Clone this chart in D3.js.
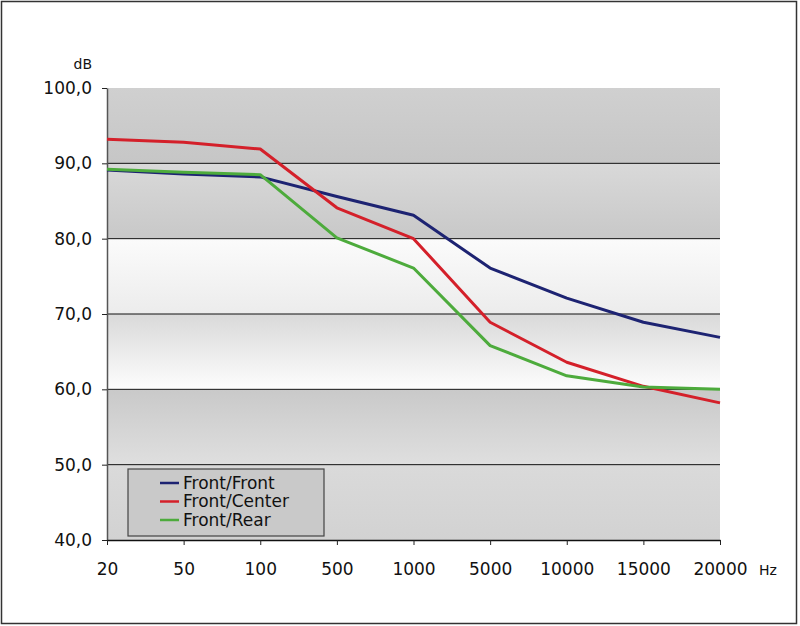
<!DOCTYPE html>
<html>
<head>
<meta charset="utf-8">
<script src="https://cdn.jsdelivr.net/npm/d3@7"></script>
<style>
  body { margin: 0; background: #fff; }
  svg { display: block; }
</style>
</head>
<body>
<div id="chart"></div>
<script>
var categories = ["20", "50", "100", "500", "1000", "5000", "10000", "15000", "20000"];
var frontFront = [89.1, 88.6, 88.2, 85.6, 83.1, 76.1, 72.1, 68.9, 66.9];
var frontCenter = [93.2, 92.8, 91.9, 84.1, 80.0, 68.9, 63.6, 60.4, 58.2];
var frontRear = [89.2, 88.8, 88.5, 80.1, 76.1, 65.8, 61.8, 60.3, 60.0];
var seriesNames = ["Front/Front", "Front/Center", "Front/Rear"];
var seriesColors = ["#1d2372", "#d4202a", "#4dab3c"];
var yTicks = [40, 50, 60, 70, 80, 90, 100];

var width = 800, height = 626;
var plotLeft = 107, plotRight = 720, plotTop = 88, plotBottom = 540;

var svg = d3.select("#chart").append("svg")
  .attr("width", width)
  .attr("height", height);

// outer frame
svg.append("rect")
  .attr("x", 1.5).attr("y", 1.5)
  .attr("width", 795).attr("height", 622)
  .attr("fill", "#fff")
  .attr("stroke", "#333")
  .attr("stroke-width", 1.5);

var x = d3.scalePoint().domain(categories).range([plotLeft, plotRight]).padding(0);
var y = d3.scaleLinear().domain([40, 100]).range([plotBottom, plotTop]);

// band gradients, one per band between gridlines
var bandShades = [
  ["#d2d2d2", "#dadada"], // 40-50
  ["#dfdfdf", "#c9c9c9"], // 50-60
  ["#fdfdfd", "#d9d9d9"], // 60-70
  ["#ececec", "#fbfbfb"], // 70-80
  ["#c8c8c8", "#d9d9d9"], // 80-90
  ["#c6c6c6", "#d0d0d0"]  // 90-100
];
var defs = svg.append("defs");
bandShades.forEach(function (s, i) {
  var g = defs.append("linearGradient")
    .attr("id", "band" + i)
    .attr("x1", 0).attr("y1", 0).attr("x2", 0).attr("y2", 1);
  g.append("stop").attr("offset", "0%").attr("stop-color", s[1]);
  g.append("stop").attr("offset", "100%").attr("stop-color", s[0]);
});

svg.selectAll(".band")
  .data(yTicks.slice(0, -1))
  .enter().append("rect")
  .attr("class", "band")
  .attr("x", plotLeft)
  .attr("y", function (d) { return y(d + 10); })
  .attr("width", plotRight - plotLeft)
  .attr("height", function (d) { return y(d) - y(d + 10); })
  .attr("fill", function (d, i) { return "url(#band" + i + ")"; });

// gridlines
svg.selectAll(".grid")
  .data(yTicks.filter(function (d) { return d > 40 && d < 100; }))
  .enter().append("line")
  .attr("x1", plotLeft).attr("x2", plotRight)
  .attr("y1", function (d) { return y(d); })
  .attr("y2", function (d) { return y(d); })
  .attr("stroke", "#111")
  .attr("stroke-width", 1);

// y axis
var yAxis = svg.append("g")
  .attr("transform", "translate(" + plotLeft + ",0)")
  .call(d3.axisLeft(y).tickValues(yTicks).tickSize(5).tickSizeOuter(0).tickPadding(10)
    .tickFormat(function (d) { return d3.format(".1f")(d).replace(".", ","); }));
yAxis.select(".domain").attr("stroke", "#555").attr("stroke-width", 1.5);
yAxis.selectAll(".tick line").attr("stroke", "#222");
yAxis.selectAll("text")
  .style("font-family", "DejaVu Sans, sans-serif")
  .style("font-size", "17px")
  .attr("fill", "#111");

// x axis
var xAxis = svg.append("g")
  .attr("transform", "translate(0," + plotBottom + ")")
  .call(d3.axisBottom(x).tickSize(5).tickSizeOuter(0).tickPadding(18));
xAxis.select(".domain").attr("stroke", "#111").attr("stroke-width", 1.5);
xAxis.selectAll(".tick line").attr("stroke", "#222");
xAxis.selectAll("text")
  .style("font-family", "DejaVu Sans, sans-serif")
  .style("font-size", "17px")
  .attr("fill", "#111");

svg.append("text")
  .attr("x", 92).attr("y", 69)
  .attr("text-anchor", "end")
  .style("font-family", "DejaVu Sans, sans-serif")
  .style("font-size", "14px")
  .attr("fill", "#111")
  .text("dB");

svg.append("text")
  .attr("x", 759).attr("y", 575)
  .style("font-family", "DejaVu Sans, sans-serif")
  .style("font-size", "14px")
  .attr("fill", "#111")
  .text("Hz");

// lines
var series = [frontFront, frontCenter, frontRear];
var line = d3.line()
  .x(function (d, i) { return x(categories[i]); })
  .y(function (d) { return y(d); });

svg.selectAll(".series")
  .data(series)
  .enter().append("path")
  .attr("class", "series")
  .attr("d", line)
  .attr("fill", "none")
  .attr("stroke", function (d, i) { return seriesColors[i]; })
  .attr("stroke-width", 3)
  .attr("stroke-linejoin", "round");

// legend
var legend = svg.append("g");
legend.append("rect")
  .attr("x", 128).attr("y", 469)
  .attr("width", 196).attr("height", 67)
  .attr("fill", "#c9c9c9")
  .attr("stroke", "#444")
  .attr("stroke-width", 1.2);

var item = legend.selectAll(".item")
  .data(seriesNames)
  .enter().append("g")
  .attr("transform", function (d, i) { return "translate(0," + (483 + i * 18.5) + ")"; });
item.append("line")
  .attr("x1", 160).attr("x2", 179)
  .attr("stroke", function (d, i) { return seriesColors[i]; })
  .attr("stroke-width", 2.5);
item.append("text")
  .attr("x", 183).attr("dy", "0.35em")
  .style("font-family", "DejaVu Sans, sans-serif")
  .style("font-size", "17px")
  .attr("fill", "#111")
  .text(function (d) { return d; });
</script>
</body>
</html>
